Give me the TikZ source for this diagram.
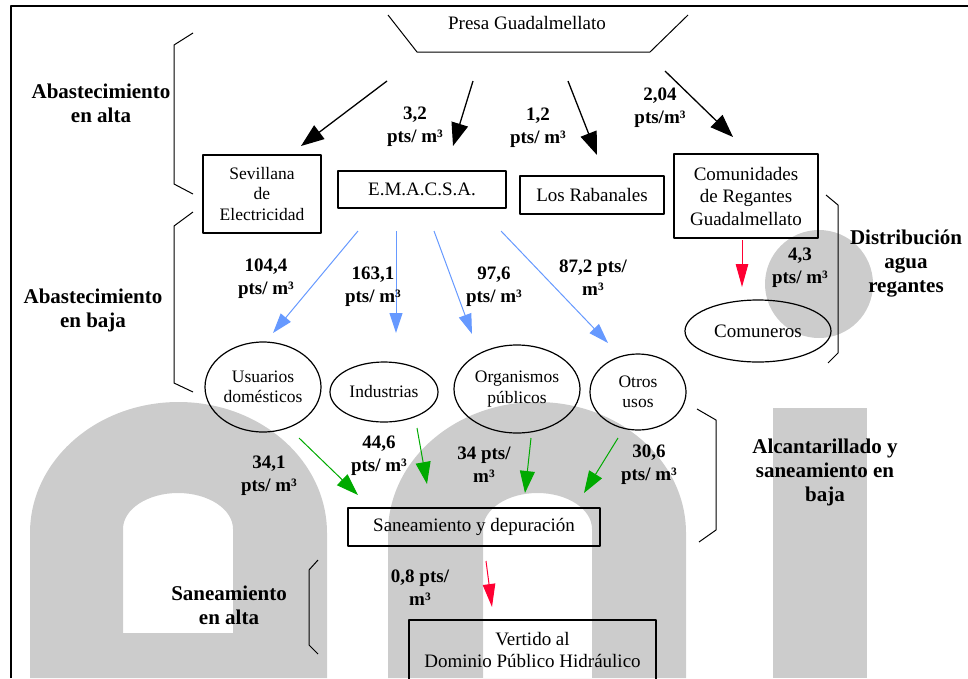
\documentclass[tikz,border=0pt]{standalone}
\usepackage{fontspec}
\setmainfont{Liberation Serif}
\usetikzlibrary{arrows.meta,shapes.geometric}
\definecolor{azul}{RGB}{102,153,255}
\definecolor{verde}{RGB}{0,170,0}
\definecolor{rojo}{RGB}{255,0,51}
\definecolor{marca}{RGB}{204,204,204}
\begin{document}
\begin{tikzpicture}[x=1pt,y=-1pt,line join=round,
	caja/.style={draw,line width=1.2pt,inner sep=0pt,align=center,font=\ftexto},
	ovalo/.style={draw,ellipse,line width=1.2pt,inner sep=0pt,align=center,font=\fchico},
	cifra/.style={align=center,font=\fcifra},
	titulo/.style={align=center,font=\ftitulo},
	llave/.style={line width=1pt},
	fnegra/.style={line width=1.3pt,-{Triangle[length=23pt,width=17pt]}},
	fazul/.style={azul,line width=1pt,-{Triangle[length=20pt,width=13pt]}},
	fverde/.style={verde,line width=1pt,-{Triangle[length=22pt,width=15pt]}},
	froja/.style={rojo,line width=1pt,-{Triangle[length=23pt,width=12.5pt]}}]
	%==Tamaños de letra
	\def\ftexto{\fontsize{19}{22.5}\selectfont}
	\def\fchico{\fontsize{17.5}{20.5}\selectfont}
	\def\fcifra{\fontsize{19}{23}\selectfont\bfseries}
	\def\ftitulo{\fontsize{21}{24}\selectfont\bfseries}
	%==============
	\useasboundingbox (0,0) rectangle (968,678);
	% marca de agua
	\fill[marca,even odd rule] (30,678)--(30,533) arc[start angle=180,end angle=360,x radius=148.5,y radius=131]--(327,678)--cycle
		(123,633)--(123,529) arc[start angle=180,end angle=360,x radius=55,y radius=36]--(233,633)--cycle;
	\fill[marca,even odd rule] (388,678)--(388,533) arc[start angle=180,end angle=360,x radius=149,y radius=131]--(686,678)--cycle
		(483,678)--(483,529) arc[start angle=180,end angle=360,x radius=54.5,y radius=36]--(592,678)--cycle;
	\fill[marca] (773,408) rectangle (867,678);
	\fill[marca] (819,284) circle[radius=54];
	% marco
	\draw[line width=2pt] (10.5,678)--(10.5,6)--(968,6);
	% presa
	\draw[line width=1pt] (388,15)--(417,52)--(650,52)--(688,15);
	\node[font=\ftexto] (presa) at (527,23) {Presa Guadalmellato};
	% abastecimiento en alta
	\node[caja,font=\fchico,minimum width=118pt,minimum height=78pt] (sev) at (262,194) {Sevillana\\de\\Electricidad};
	\node[caja,minimum width=168pt,minimum height=37pt] (emacsa) at (422,189.5) {E.M.A.C.S.A.};
	\node[caja,minimum width=144pt,minimum height=38pt] (rab) at (592,195) {Los Rabanales};
	\node[caja,minimum width=144pt,minimum height=84pt] (com) at (746,196) {Comunidades\\de Regantes\\Guadalmellato};
	\path (387,81)coordinate(P1) (301,146)coordinate(Q1)
		(473,81)coordinate(P2) (453,146)coordinate(Q2)
		(568,81)coordinate(P3) (597,155)coordinate(Q3)
		(665,71)coordinate(P4) (733,137)coordinate(Q4);
	\draw[fnegra] (P1)--(Q1);
	\draw[fnegra] (P2)--(Q2);
	\draw[fnegra] (P3)--(Q3);
	\draw[fnegra] (P4)--(Q4);
	\node[cifra] (c32) at (415,127) {3,2\\pts/ m³};
	\node[cifra] (c12) at (538,128) {1,2\\pts/ m³};
	\node[cifra] (c204) at (660,108) {2,04\\pts/m³};
	% abastecimiento en baja
	\node[ovalo,minimum width=116pt,minimum height=90pt] (usu) at (263,387) {Usuarios\\domésticos};
	\node[ovalo,minimum width=108pt,minimum height=60pt] (ind) at (384,392) {Industrias};
	\node[ovalo,minimum width=126pt,minimum height=88pt] (org) at (517,389) {Organismos\\públicos};
	\node[ovalo,minimum width=96pt,minimum height=76pt] (otr) at (638,392) {Otros\\usos};
	\node[ovalo,font=\ftexto,minimum width=146pt,minimum height=62pt] (comu) at (758,331) {Comuneros};
	\path (358,231)coordinate(E1) (273,333)coordinate(U1)
		(396,231)coordinate(E2) (396,333)coordinate(U2)
		(434,231)coordinate(E3) (472,334)coordinate(U3)
		(501,231)coordinate(E4) (608,343)coordinate(U4);
	\draw[fazul] (E1)--(U1);
	\draw[fazul] (E2)--(U2);
	\draw[fazul] (E3)--(U3);
	\draw[fazul] (E4)--(U4);
	\node[cifra] (c1044) at (266,279) {104,4\\pts/ m³};
	\node[cifra] (c1631) at (373,287) {163,1\\pts/ m³};
	\node[cifra] (c976) at (494,287) {97,6\\pts/ m³};
	\node[cifra] (c872) at (593,278) {87,2 pts/\\m³};
	\path (742,240)coordinate(R1) (742,287)coordinate(R2);
	\draw[froja] (R1)--(R2);
	\node[cifra] (c43) at (800,268) {4,3\\pts/ m³};
	% saneamiento
	\node[caja,minimum width=252pt,minimum height=38pt] (san) at (474,527) {Saneamiento y depuración};
	\node[caja,minimum width=247pt,minimum height=60pt] (ver) at (532.5,650) {Vertido al\\Dominio Público Hidráulico};
	\path (299,438)coordinate(S1) (358,495)coordinate(T1)
		(417,428)coordinate(S2) (427,484)coordinate(T2)
		(531,438)coordinate(S3) (525,493)coordinate(T3)
		(618,438)coordinate(S4) (584,493)coordinate(T4);
	\draw[fverde] (S1)--(T1);
	\draw[fverde] (S2)--(T2);
	\draw[fverde] (S3)--(T3);
	\draw[fverde] (S4)--(T4);
	\node[cifra] (c341) at (269,476) {34,1\\pts/ m³};
	\node[cifra] (c446) at (379,456) {44,6\\pts/ m³};
	\node[cifra] (c34) at (484,465) {34 pts/\\m³};
	\node[cifra] (c306) at (649,465) {30,6\\pts/ m³};
	\path (486,561)coordinate(V1) (492,607)coordinate(V2);
	\draw[froja] (V1)--(V2);
	\node[cifra] (c08) at (420,588) {0,8 pts/\\m³};
	% llaves y títulos
	\draw[llave] (193,33)--(174,45)--(174,184)--(193,194);
	\draw[llave] (193,212)--(174,226)--(174,383)--(193,392);
	\draw[llave] (826,195)--(838,205)--(838,353)--(828,363);
	\draw[llave] (697,409)--(716,420)--(716,530)--(699,542);
	\draw[llave] (318,560)--(309,570)--(309,645)--(318,654);
	\node[titulo] (alta) at (101,103) {Abastecimiento\\en alta};
	\node[titulo] (baja) at (93,310) {Abastecimiento\\en baja};
	\node[titulo] (dist) at (906,264) {Distribución\\agua\\regantes};
	\node[titulo] (alc) at (825,472) {Alcantarillado y\\saneamiento en\\baja};
	\node[titulo] (sanalta) at (229,605) {Saneamiento\\en alta};
\end{tikzpicture}
\end{document}
